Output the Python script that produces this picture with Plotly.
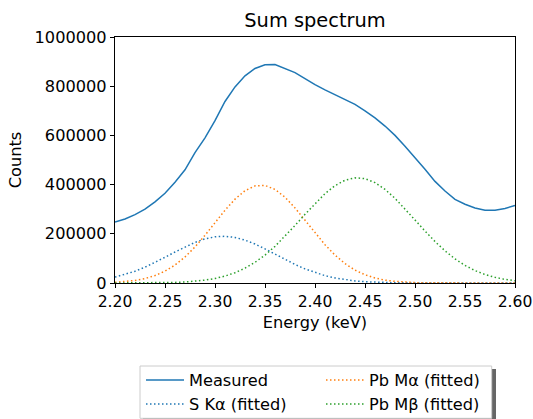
import plotly.graph_objects as go

energy = [round(2.20 + 0.01 * i, 2) for i in range(41)]

measured = [248000, 260000, 278000, 300000, 330000, 365000, 410000, 460000, 530000, 590000,
            660000, 738000, 797000, 842000, 872000, 887000, 888000, 872000, 855000, 831000,
            806000, 785000, 765000, 746000, 726000, 700000, 671000, 638000, 600000, 556000,
            510000, 462000, 413000, 374000, 340000, 320000, 305000, 296000, 296000, 303000,
            315000]

s_ka = [23800, 34400, 47900, 64300, 83400, 104400, 126100, 146900, 165200, 179400,
        187800, 189900, 185200, 174300, 158300, 138800, 117400, 95900, 75500, 57400,
        42100, 29800, 20400, 13400, 8500, 5200, 3100, 1800, 1000, 520,
        270, 130, 60, 30, 10, 5, 2, 1, 0, 0, 0]

pb_ma = [3000, 5700, 10400, 18200, 30300, 48100, 73000, 105900, 146600, 193900,
         245000, 295700, 340800, 375300, 394700, 396500, 380500, 348800, 305300, 255400,
         204000, 155600, 113400, 79000, 52500, 33400, 20200, 11700, 6500, 3400,
         1700, 840, 390, 170, 70, 30, 10, 5, 2, 1, 0]

pb_mb = [47, 98, 200, 390, 740, 1370, 2450, 4250, 7140, 11600,
         18400, 28200, 41800, 60200, 84000, 113600, 149000, 189500, 233700, 279200,
         323500, 363400, 395700, 417800, 427600, 424300, 408100, 380700, 344200, 301700,
         256400, 211200, 168700, 130700, 98100, 71400, 50400, 34500, 22800, 14700,
         9200]

x_ticks = [2.20, 2.25, 2.30, 2.35, 2.40, 2.45, 2.50, 2.55, 2.60]
x_tick_labels = ["2.20", "2.25", "2.30", "2.35", "2.40", "2.45", "2.50", "2.55", "2.60"]
y_ticks = [0, 200000, 400000, 600000, 800000, 1000000]

BLUE, ORANGE, GREEN = "#1f77b4", "#ff7f0e", "#2ca02c"
DOT = "1.5px,2.5px"
FONT = "DejaVu Sans"
FS = 16.2

fig = go.Figure()
fig.add_trace(go.Scatter(x=energy, y=measured, mode="lines", name="Measured",
                         line=dict(color=BLUE, width=1.5), legend="legend"))
fig.add_trace(go.Scatter(x=energy, y=s_ka, mode="lines", name="S Kα (fitted)",
                         line=dict(color=BLUE, width=1.5, dash=DOT), legend="legend"))
fig.add_trace(go.Scatter(x=energy, y=pb_ma, mode="lines", name="Pb Mα (fitted)",
                         line=dict(color=ORANGE, width=1.5, dash=DOT), legend="legend2"))
fig.add_trace(go.Scatter(x=energy, y=pb_mb, mode="lines", name="Pb Mβ (fitted)",
                         line=dict(color=GREEN, width=1.5, dash=DOT), legend="legend2"))

# page body margin is removed in post_script, so figure pixels == page pixels
W, H = 533, 419
# plot area in page pixels: x 115..515, y 37..283
L, R, T, B = 115, W - 515, 37, H - 283
pw, ph = W - L - R, H - T - B


def px(x):
    return (x - L) / pw


def py(y):
    return (H - B - y) / ph


tf = dict(family=FONT, size=FS, color="black")
xtf = dict(family=FONT, size=15.6, color="black")
leg_common = dict(bgcolor="rgba(0,0,0,0)", borderwidth=0, font=tf,
                  orientation="v", xanchor="left", yanchor="top", itemwidth=38, tracegroupgap=0)

axis_common = dict(showgrid=False, zeroline=False, showline=True, linecolor="black", linewidth=1.2,
                   mirror=True, ticks="outside", ticklen=4, tickwidth=1.2, tickcolor="black",
                   ticklabeloverflow="allow")

fig.update_layout(
    width=W, height=H,
    margin=dict(l=L, r=R, t=T, b=B, autoexpand=False),
    paper_bgcolor="white", plot_bgcolor="white",
    font=tf,
    title=dict(text="Sum spectrum", x=0.5, xref="paper", xanchor="center",
               y=1 - 20 / H, yref="container", yanchor="middle",
               font=dict(family=FONT, size=19.4, color="black")),
    xaxis=dict(range=[2.2, 2.6], tickvals=x_ticks, ticktext=x_tick_labels, tickfont=xtf,
               title=dict(text="Energy (keV)", standoff=6, font=tf), **axis_common),
    yaxis=dict(range=[0, 1000000], tickvals=y_ticks, tickformat="d", tickfont=tf,
               title=dict(text="Counts", standoff=8, font=tf), **axis_common),
    legend=dict(x=px(141), y=py(363), **leg_common),
    legend2=dict(x=px(321), y=py(363), **leg_common),
    shapes=[
        dict(type="rect", xref="paper", yref="paper", x0=px(143), x1=px(496), y0=py(369), y1=py(425),
             fillcolor="#666666", line=dict(width=0), layer="above"),
        dict(type="rect", xref="paper", yref="paper", x0=px(140), x1=px(491.7), y0=py(366), y1=py(418.3),
             fillcolor="white", line=dict(color="#cccccc", width=1), layer="above"),
    ],
)

fig.write_html("out.html", config={"displayModeBar": False},
               post_script="document.body.style.margin='0';document.body.style.overflow='hidden';")
